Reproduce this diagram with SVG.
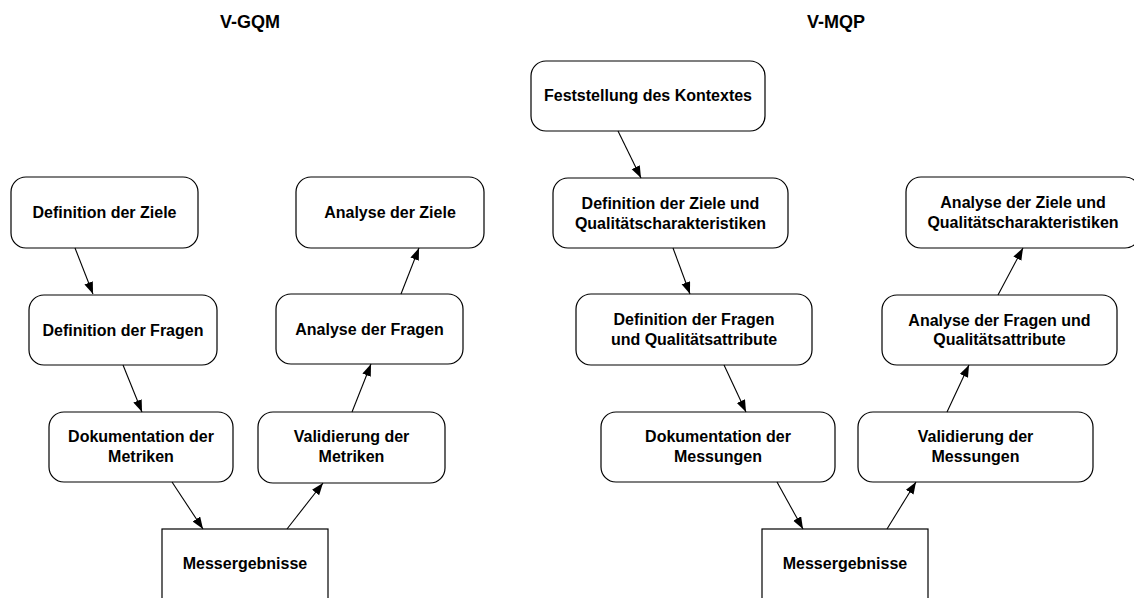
<svg xmlns="http://www.w3.org/2000/svg" width="1134" height="598" viewBox="0 0 1134 598">
  <style>
    .box { fill: #fff; stroke: #000; stroke-width: 1.2; }
    .lbl { font-family: "Liberation Sans", Arial, sans-serif; font-weight: bold; font-size: 16px; fill: #000; text-anchor: middle; }
    .title { font-family: "Liberation Sans", Arial, sans-serif; font-weight: bold; font-size: 18px; fill: #000; text-anchor: middle; }
    .edge { stroke: #000; stroke-width: 1.1; fill: none; marker-end: url(#arrow); }
  </style>
  <defs>
    <marker id="arrow" markerUnits="userSpaceOnUse" markerWidth="13" markerHeight="10" refX="12" refY="4.5" orient="auto">
      <path d="M0,0 L12,4.5 L0,9 z" fill="#000"/>
    </marker>
  </defs>
  <rect width="1134" height="598" fill="#fff"/>

  <text class="title" x="250" y="28">V-GQM</text>
  <text class="title" x="836" y="28">V-MQP</text>

  <!-- V-GQM -->
  <g id="gqm-def-ziele">
    <rect class="box" x="11" y="177" width="187" height="71" rx="15"/>
    <text class="lbl" x="104.5" y="218">Definition der Ziele</text>
  </g>
  <g id="gqm-def-fragen">
    <rect class="box" x="29" y="295" width="188" height="70" rx="15"/>
    <text class="lbl" x="123" y="336">Definition der Fragen</text>
  </g>
  <g id="gqm-dok">
    <rect class="box" x="49" y="412" width="184" height="70" rx="15"/>
    <text class="lbl" x="141" y="442">Dokumentation der</text>
    <text class="lbl" x="141" y="462">Metriken</text>
  </g>
  <g id="gqm-mess">
    <rect class="box" x="162" y="529" width="166" height="80"/>
    <text class="lbl" x="245" y="569">Messergebnisse</text>
  </g>
  <g id="gqm-val">
    <rect class="box" x="258" y="412" width="187" height="71" rx="15"/>
    <text class="lbl" x="351.5" y="442">Validierung der</text>
    <text class="lbl" x="351.5" y="462">Metriken</text>
  </g>
  <g id="gqm-ana-fragen">
    <rect class="box" x="276" y="294" width="187" height="70" rx="15"/>
    <text class="lbl" x="369.5" y="335">Analyse der Fragen</text>
  </g>
  <g id="gqm-ana-ziele">
    <rect class="box" x="296" y="177" width="188" height="71" rx="15"/>
    <text class="lbl" x="390" y="218">Analyse der Ziele</text>
  </g>

  <!-- V-MQP -->
  <g id="mqp-kontext">
    <rect class="box" x="531" y="61" width="234" height="70" rx="15"/>
    <text class="lbl" x="648" y="101">Feststellung des Kontextes</text>
  </g>
  <g id="mqp-def-ziele">
    <rect class="box" x="553" y="178" width="235" height="70" rx="15"/>
    <text class="lbl" x="670.5" y="209">Definition der Ziele und</text>
    <text class="lbl" x="670.5" y="228.5">Qualitätscharakteristiken</text>
  </g>
  <g id="mqp-def-fragen">
    <rect class="box" x="576" y="294" width="236" height="71" rx="15"/>
    <text class="lbl" x="694" y="325">Definition der Fragen</text>
    <text class="lbl" x="694" y="344.5">und Qualitätsattribute</text>
  </g>
  <g id="mqp-dok">
    <rect class="box" x="601" y="412" width="234" height="70" rx="15"/>
    <text class="lbl" x="718" y="442">Dokumentation der</text>
    <text class="lbl" x="718" y="462">Messungen</text>
  </g>
  <g id="mqp-mess">
    <rect class="box" x="762" y="529" width="166" height="80"/>
    <text class="lbl" x="845" y="569">Messergebnisse</text>
  </g>
  <g id="mqp-val">
    <rect class="box" x="858" y="412" width="235" height="70" rx="15"/>
    <text class="lbl" x="975.5" y="442">Validierung der</text>
    <text class="lbl" x="975.5" y="462">Messungen</text>
  </g>
  <g id="mqp-ana-fragen">
    <rect class="box" x="882" y="295" width="235" height="70" rx="15"/>
    <text class="lbl" x="999.5" y="325.5">Analyse der Fragen und</text>
    <text class="lbl" x="999.5" y="345">Qualitätsattribute</text>
  </g>
  <g id="mqp-ana-ziele">
    <rect class="box" x="906" y="177" width="234" height="71" rx="15"/>
    <text class="lbl" x="1023" y="208">Analyse der Ziele und</text>
    <text class="lbl" x="1023" y="227.5">Qualitätscharakteristiken</text>
  </g>

  <g id="connectors">
    <line class="edge" x1="75" y1="248" x2="93" y2="294"/>
    <line class="edge" x1="123" y1="365" x2="142" y2="412"/>
    <line class="edge" x1="172" y1="482" x2="203" y2="529"/>
    <line class="edge" x1="287" y1="529" x2="323" y2="483"/>
    <line class="edge" x1="352" y1="412" x2="371" y2="364"/>
    <line class="edge" x1="401" y1="294" x2="419" y2="248"/>

    <line class="edge" x1="618" y1="131" x2="641" y2="178"/>
    <line class="edge" x1="673" y1="248" x2="690" y2="294"/>
    <line class="edge" x1="724" y1="365" x2="746" y2="412"/>
    <line class="edge" x1="777" y1="482" x2="803" y2="529"/>
    <line class="edge" x1="887" y1="529" x2="916" y2="482"/>
    <line class="edge" x1="947" y1="412" x2="969" y2="365"/>
    <line class="edge" x1="998" y1="295" x2="1023" y2="248"/>
  </g>
</svg>
